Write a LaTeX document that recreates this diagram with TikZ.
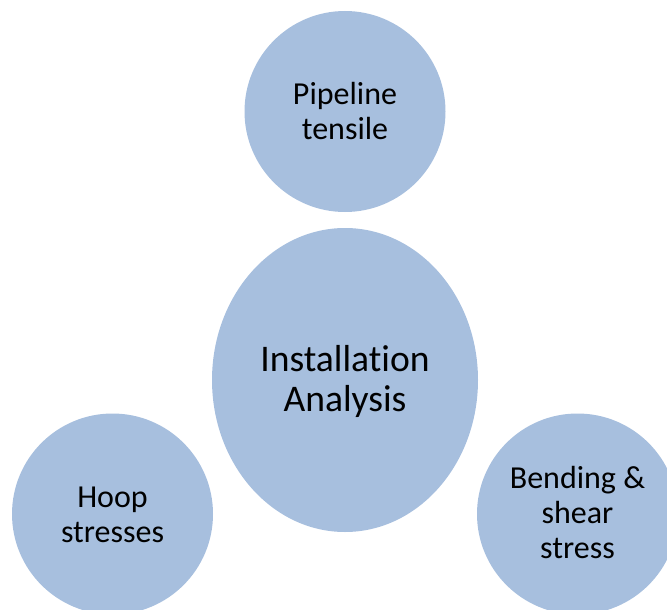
\documentclass[tikz,border=0pt]{standalone}
\usepackage{fontspec}
\setmainfont{Carlito}[Ligatures=NoCommon]
\usetikzlibrary{shapes.geometric}
\definecolor{bubble}{HTML}{A7BFDE}
\tikzset{
  bubble/.style={circle, fill=bubble, draw=none, minimum size=201pt, inner sep=0pt},
  hub/.style={ellipse, fill=bubble, draw=none, minimum width=266pt, minimum height=304pt, inner sep=0pt},
  smalltext/.style={align=center, text=black, inner sep=0pt, font=\fontsize{32}{35}\selectfont},
  bigtext/.style={align=center, text=black, inner sep=0pt, font=\fontsize{37.6}{40}\selectfont}
}
\begin{document}
\begin{tikzpicture}[x=1pt, y=-1pt]
  \useasboundingbox (0,0) rectangle (667,610);
  % the four shapes
  \node[bubble] (tensile) at (345,111.5) {};
  \node[hub] (hub) at (345,380) {};
  \node[bubble] (hoop) at (112.5,514) {};
  \node[bubble] (bending) at (577.5,514) {};
  % their labels
  \node[smalltext] (tensileText) at ([yshift=0.5pt]tensile.center) {Pipeline\\tensile};
  \node[bigtext] (hubText) at ([yshift=-1.5pt]hub.center) {Installation\\Analysis};
  \node[smalltext] (hoopText) at ([yshift=-0.5pt]hoop.center) {Hoop\\stresses};
  \node[smalltext] (bendingText) at ([yshift=1.5pt]bending.center) {Bending \&\\shear\\stress};
\end{tikzpicture}
\end{document}
